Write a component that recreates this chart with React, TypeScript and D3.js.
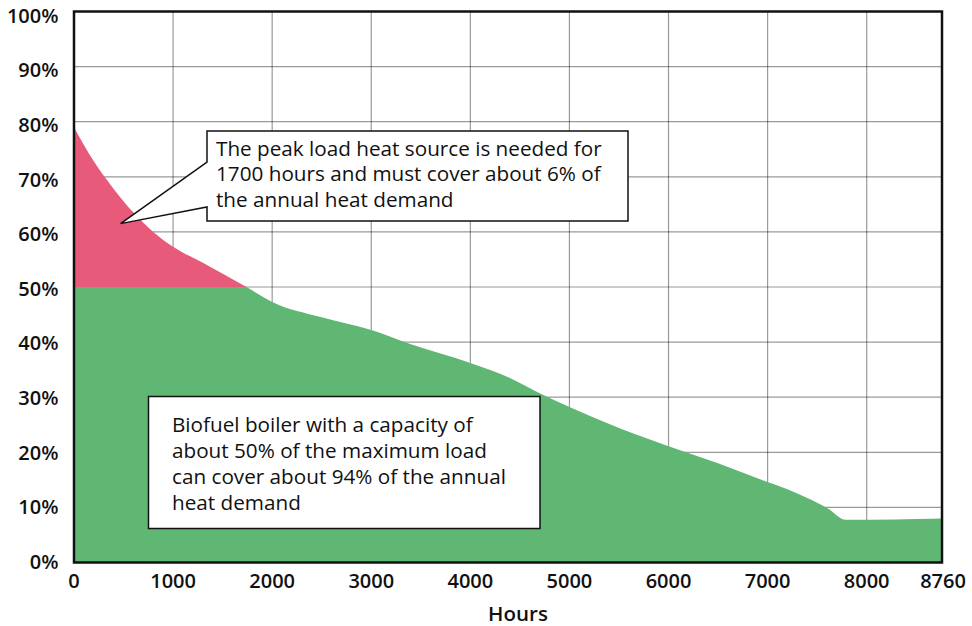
import React from "react";
import * as d3 from "d3";

const hours = [0, 200, 400, 600, 800, 1000, 1300, 1750, 2000, 2500, 3000, 3400, 4000, 4400, 4700, 5000, 5500, 6000, 6500, 7000, 7200, 7400, 7600, 7790, 8760];
const load = [79, 72.8, 67.8, 63.5, 60, 57.3, 54.4, 49.9, 47.3, 44.5, 42.2, 39.6, 36.2, 33.5, 30.7, 28.2, 24.4, 21.1, 18, 14.6, 13.3, 11.7, 9.9, 7.75, 8.0];
const xTicks = [0, 1000, 2000, 3000, 4000, 5000, 6000, 7000, 8000, 8760];
const yTicks = [0, 10, 20, 30, 40, 50, 60, 70, 80, 90, 100];
const boilerCapacity = 50;
const peakNote = ["The peak load heat source is needed for", "1700 hours and must cover about 6% of", "the annual heat demand"];
const baseNote = ["Biofuel boiler with a capacity of", "about 50% of the maximum load", "can cover about 94% of the annual", "heat demand"];
const xTitle = "Hours";

const RED = "#E85A7A";
const GREEN = "#60B673";
const FONT = "'Open Sans', sans-serif";

export default function App() {
  const W = 972, H = 626;
  const x = d3.scaleLinear().domain([0, 8760]).range([74, 942]);
  const y = d3.scaleLinear().domain([0, 100]).range([562.5, 11.5]);
  const yLab = d3.scaleLinear().domain([0, 100]).range([561.5, 15.5]);
  const pts = hours.map((h, i) => [h, load[i]] as [number, number]);
  const area = d3.area<[number, number]>()
    .x(d => x(d[0])).y0(y(0)).y1(d => y(d[1]))
    .curve(d3.curveMonotoneX);
  const areaPath = area(pts) || "";
  const cap = y(boilerCapacity);

  const b1 = { x: 207, y: 131, w: 421, h: 90 };
  const tip = [x(470), y(61.5)];
  const b2 = { x: 148.5, y: 396.5, w: 391.5, h: 132 };

  return (
    <svg width={W} height={H} style={{ display: "block", position: "absolute", left: 0, top: 0 }} fontFamily={FONT}>
      <defs>
        <clipPath id="above"><rect x={0} y={0} width={W} height={cap} /></clipPath>
        <clipPath id="below"><rect x={0} y={cap} width={W} height={H - cap} /></clipPath>
      </defs>
      <rect x={0} y={0} width={W} height={H} fill="#fff" />
      <g stroke="rgba(0,0,0,0.4)" strokeWidth={1.2}>
        {xTicks.map(t => <line key={"gx" + t} x1={x(t)} x2={x(t)} y1={y(100)} y2={y(0)} />)}
        {yTicks.map(t => <line key={"gy" + t} x1={x(0)} x2={x(8760)} y1={y(t)} y2={y(t)} />)}
      </g>
      <path d={areaPath} fill={RED} clipPath="url(#above)" />
      <path d={areaPath} fill={GREEN} clipPath="url(#below)" />
      <rect x={x(0)} y={y(100)} width={x(8760) - x(0)} height={y(0) - y(100)} fill="none" stroke="#111" strokeWidth={2.5} />
      <g fontSize={20} fontWeight={600} fill="#111" textAnchor="end">
        {yTicks.map(t => <text key={"yl" + t} x={58.5} y={yLab(t)} dy="0.36em">{t + "%"}</text>)}
      </g>
      <g fontSize={20} fontWeight={600} fill="#111" textAnchor="middle">
        {xTicks.map(t => <text key={"xl" + t} x={x(t) + (t === 8760 ? 1 : 0)} y={588}>{t}</text>)}
      </g>
      <text x={518} y={621} fontSize={20.5} fontWeight={600} textAnchor="middle" fill="#111">{xTitle}</text>
      <path
        d={`M${b1.x},${b1.y + 31} L${b1.x},${b1.y} L${b1.x + b1.w},${b1.y} L${b1.x + b1.w},${b1.y + b1.h} L${b1.x},${b1.y + b1.h} L${b1.x},${b1.y + 76} L${tip[0]},${tip[1]} Z`}
        fill="#fff" stroke="#111" strokeWidth={1.5} strokeLinejoin="miter"
      />
      <text fontSize={20.7} fill="#111" x={216} y={155.5}>
        {peakNote.map((s, i) => <tspan key={"p" + i} x={216} dy={i === 0 ? 0 : 25.7}>{s}</tspan>)}
      </text>
      <rect x={b2.x} y={b2.y} width={b2.w} height={b2.h} fill="#fff" stroke="#111" strokeWidth={1.5} />
      <text fontSize={20.7} fill="#111" x={172} y={432.3}>
        {baseNote.map((s, i) => <tspan key={"b" + i} x={172} dy={i === 0 ? 0 : 25.8}>{s}</tspan>)}
      </text>
    </svg>
  );
}
